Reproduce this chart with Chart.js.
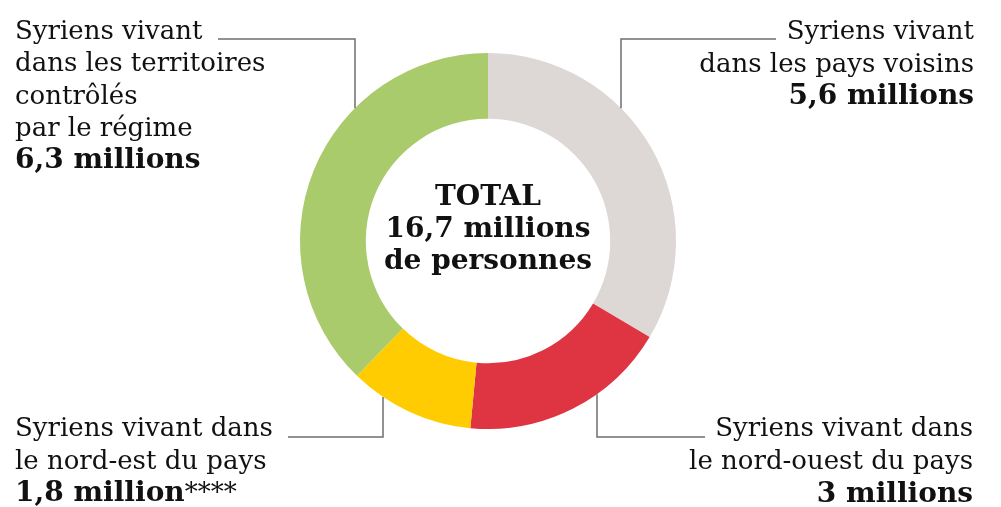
<!DOCTYPE html>
<html>
<head>
<meta charset="utf-8">
<script src="https://cdn.jsdelivr.net/npm/chart.js@4"></script>
<style>
  html, body { margin: 0; padding: 0; background: #fff; }
  #wrap { width: 1001px; height: 507px; }
</style>
</head>
<body>
<div id="wrap"><canvas id="graf"></canvas></div>
<script>
// donnees
const categories = ['Pays voisins', 'Nord-ouest', 'Nord-est', 'Territoires du régime'];
const valeurs = [5.6, 3, 1.8, 6.3];
const libelles = [
    ['Syriens vivant', 'dans les pays voisins'],
    ['Syriens vivant dans', 'le nord-ouest du pays'],
    ['Syriens vivant dans', 'le nord-est du pays'],
    ['Syriens vivant', 'dans les territoires', 'contrôlés', 'par le régime']
];
const chiffres = ['5,6 millions', '3 millions', '1,8 million', '6,3 millions'];
const notes = ['', '', '****', ''];
const totalTexte = ['TOTAL', '16,7 millions', 'de personnes'];
const couleurs = ['#ddd7d6', '#df3442', '#fecc00', '#aacb6b'];

const SERIF = '"DejaVu Serif", serif';

// placement des etiquettes (x du texte, alignement, 1re ligne, x du trait vertical, fin du trait horizontal)
const etiquettes = [
    { x: 974, align: 'right', y: 39, pas: 32.5, traitX: 621, traitFin: 776, traitY: 39, haut: true },
    { x: 973, align: 'right', y: 436, pas: 33, traitX: 597, traitFin: 705, traitY: 437, haut: false },
    { x: 15, align: 'left', y: 436, pas: 32.5, traitX: 383, traitFin: 288, traitY: 437, haut: false },
    { x: 15, align: 'left', y: 39, pas: 32.3, traitX: 355, traitFin: 218, traitY: 39, haut: true }
];

const annotations = {
    id: 'annotations',
    afterDraw(chart) {
        const ctx = chart.ctx;
        const arc = chart.getDatasetMeta(0).data[0];
        const cx = arc.x, cy = arc.y, R = arc.outerRadius;
        ctx.save();

        // traits de rappel
        ctx.strokeStyle = '#6e6e6e';
        ctx.lineWidth = 1.5;
        etiquettes.forEach(e => {
            const dx = e.traitX - cx;
            const bord = Math.sqrt(R * R - dx * dx);
            const yBord = e.haut ? cy - bord : cy + bord;
            ctx.beginPath();
            ctx.moveTo(e.traitFin, e.traitY);
            ctx.lineTo(e.traitX, e.traitY);
            ctx.lineTo(e.traitX, yBord);
            ctx.stroke();
        });

        // textes
        ctx.fillStyle = '#111';
        ctx.textBaseline = 'alphabetic';
        etiquettes.forEach((e, i) => {
            ctx.textAlign = e.align;
            ctx.font = '26px ' + SERIF;
            libelles[i].forEach((l, j) => ctx.fillText(l, e.x, e.y + j * e.pas));
            const yc = e.y + libelles[i].length * e.pas;
            ctx.font = 'bold 28px ' + SERIF;
            if (notes[i]) {
                const w = ctx.measureText(chiffres[i]).width;
                ctx.textAlign = 'left';
                ctx.fillText(chiffres[i], e.x, yc);
                ctx.font = '26px ' + SERIF;
                ctx.fillText(notes[i], e.x + w, yc);
            } else {
                ctx.fillText(chiffres[i], e.x, yc);
            }
        });

        // total au centre
        ctx.textAlign = 'center';
        ctx.font = 'bold 28px ' + SERIF;
        totalTexte.forEach((l, j) => ctx.fillText(l, cx, 205 + j * 32));

        ctx.restore();
    }
};

new Chart(document.getElementById('graf'), {
    type: 'doughnut',
    data: {
        labels: categories,
        datasets: [{
            data: valeurs,
            backgroundColor: couleurs,
            borderWidth: 0,
            hoverOffset: 0
        }]
    },
    options: {
        responsive: true,
        maintainAspectRatio: false,
        animation: false,
        cutout: '65%',
        layout: {
            padding: { top: 53, bottom: 78, left: 300, right: 325 }
        },
        plugins: {
            legend: { display: false },
            tooltip: { enabled: false }
        }
    },
    plugins: [annotations]
});
</script>
</body>
</html>
